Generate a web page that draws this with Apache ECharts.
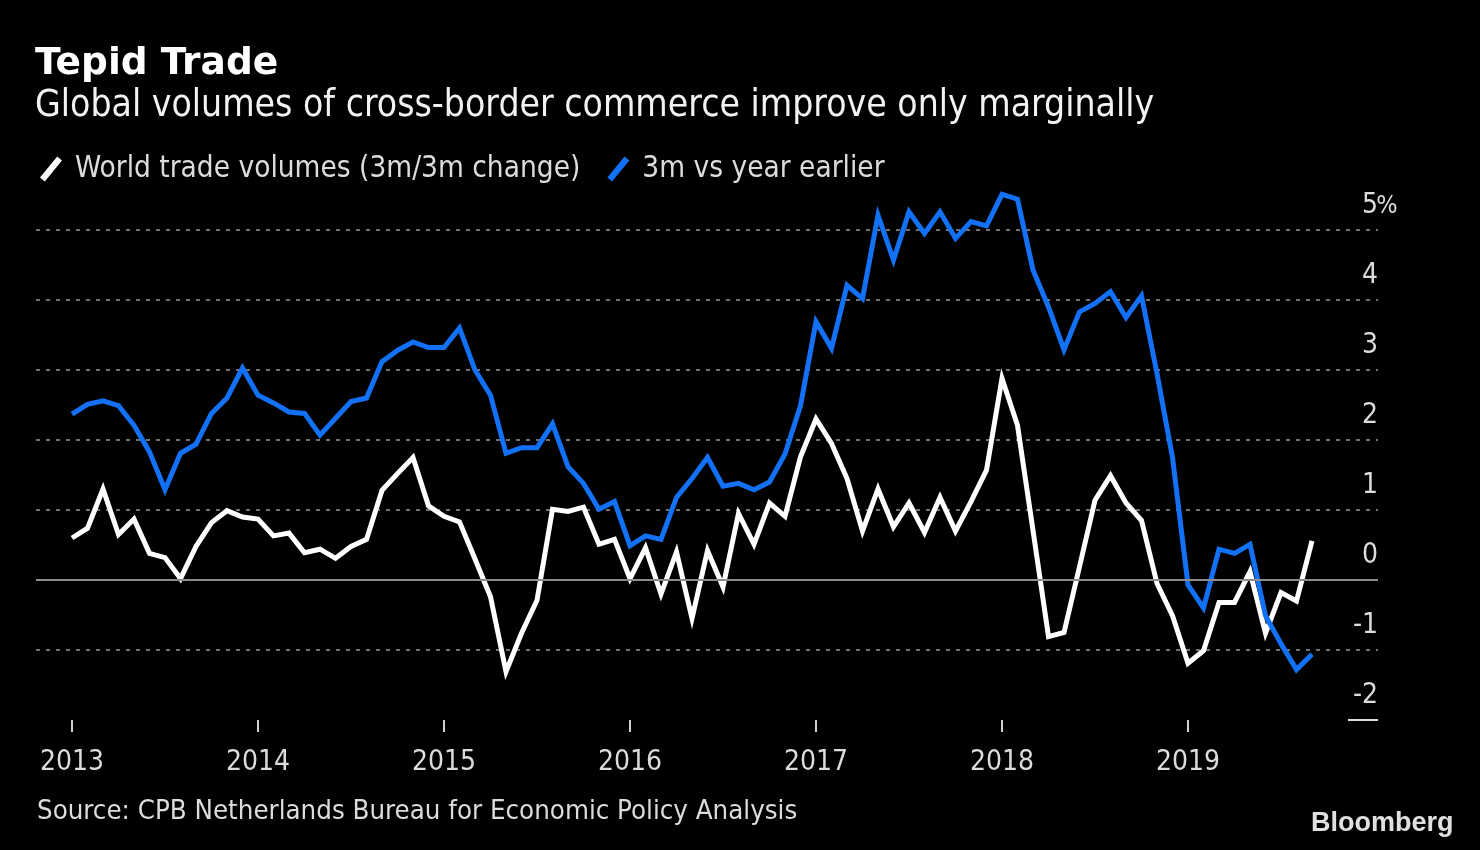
<!DOCTYPE html>
<html>
<head>
<meta charset="utf-8">
<title>Tepid Trade</title>
<script src="https://cdn.jsdelivr.net/npm/echarts@6/dist/echarts.min.js"></script>
<style>
  html, body { margin: 0; padding: 0; background: #000; }
  #chart { width: 1480px; height: 850px; }
</style>
</head>
<body>
<div id="chart"></div>
<script>
  // monthly points, Jan 2013 .. Sep 2019
  var startYear = 2013;
  var yearTicks = [0, 12, 24, 36, 48, 60, 72];

  var worldTrade = [
    0.60, 0.74, 1.30, 0.65, 0.87, 0.38, 0.32, 0.02, 0.48, 0.82, 0.99, 0.90,
    0.87, 0.63, 0.67, 0.39, 0.44, 0.31, 0.48, 0.58, 1.28, 1.52, 1.75, 1.06,
    0.91, 0.83, 0.30, -0.24, -1.31, -0.76, -0.29, 1.01, 0.98, 1.04, 0.51, 0.58,
    0.02, 0.46, -0.20, 0.40, -0.55, 0.42, -0.10, 0.95, 0.51, 1.10, 0.91, 1.76,
    2.30, 1.95, 1.45, 0.70, 1.30, 0.76, 1.10, 0.68, 1.18, 0.70, 1.12, 1.57,
    2.88, 2.21, 0.71, -0.81, -0.75, 0.19, 1.14, 1.49, 1.10, 0.85, -0.05, -0.51,
    -1.19, -1.01, -0.32, -0.32, 0.12, -0.76, -0.18, -0.30, 0.56
  ];

  var yearEarlier = [
    2.37, 2.51, 2.56, 2.49, 2.21, 1.83, 1.29, 1.81, 1.94, 2.38, 2.60, 3.03,
    2.64, 2.53, 2.40, 2.38, 2.07, 2.31, 2.55, 2.60, 3.12, 3.28, 3.40, 3.32,
    3.32, 3.60, 3.00, 2.64, 1.81, 1.89, 1.89, 2.23, 1.62, 1.38, 1.01, 1.12,
    0.49, 0.63, 0.58, 1.18, 1.45, 1.75, 1.34, 1.38, 1.29, 1.40, 1.80, 2.49,
    3.69, 3.31, 4.21, 4.02, 5.21, 4.57, 5.26, 4.95, 5.26, 4.88, 5.12, 5.06,
    5.51, 5.44, 4.43, 3.90, 3.29, 3.83, 3.95, 4.12, 3.75, 4.06, 2.95, 1.75,
    -0.07, -0.40, 0.44, 0.38, 0.51, -0.51, -0.91, -1.28, -1.06
  ];

  var seriesNames = ['World trade volumes (3m/3m change)', '3m vs year earlier'];

  var font = '"DejaVu Sans Condensed", "DejaVu Sans", sans-serif';
  var slash = 'path://M0,22 L18,0 L23,4 L5,26 Z';

  function toPoints(values) {
    return values.map(function (v, i) { return [i, v]; });
  }

  var chart = echarts.init(document.getElementById('chart'));

  var option = {
    backgroundColor: '#000',
    animation: false,
    title: {
      text: 'Tepid Trade',
      subtext: 'Global volumes of cross-border commerce improve only marginally',
      left: 35,
      top: 44,
      itemGap: 2,
      padding: 0,
      textStyle: {
        color: '#fff',
        fontFamily: '"DejaVu Sans", sans-serif',
        fontWeight: 'bold',
        fontSize: 37.5,
        lineHeight: 40
      },
      subtextStyle: {
        color: '#f2f2f2',
        fontFamily: font,
        fontSize: 37,
        lineHeight: 40
      }
    },
    legend: {
      left: 40,
      top: 154,
      padding: 0,
      itemGap: 27,
      itemWidth: 22,
      itemHeight: 25,
      textStyle: { color: '#dcdcdc', fontFamily: font, fontSize: 29.5, padding: [0, 0, 0, 8] },
      data: [
        { name: seriesNames[0], icon: slash, itemStyle: { color: '#fff' } },
        { name: seriesNames[1], icon: slash, itemStyle: { color: '#1271f6' } }
      ]
    },
    grid: {
      left: 36,
      right: 102,
      top: 230,
      bottom: 130
    },
    xAxis: {
      type: 'value',
      min: -36 / 15.5,
      max: (1378 - 72) / 15.5,
      axisLine: { show: false, onZero: false },
      splitLine: { show: false },
      axisTick: {
        show: true,
        customValues: yearTicks,
        length: 12,
        lineStyle: { color: '#cfcfcf', width: 2 }
      },
      axisLabel: {
        customValues: yearTicks,
        margin: 29,
        color: '#dcdcdc',
        fontFamily: font,
        fontSize: 28,
        formatter: function (v) { return String(startYear + Math.round(v / 12)); }
      }
    },
    yAxis: {
      type: 'value',
      position: 'right',
      min: -2,
      max: 5,
      interval: 1,
      axisLine: { show: false },
      axisTick: { show: false },
      splitLine: {
        show: true,
        showMinLine: false,
        lineStyle: { color: '#737373', type: [4, 6], width: 2 }
      },
      axisLabel: {
        inside: true,
        margin: -18,
        align: 'right',
        verticalAlign: 'bottom',
        lineHeight: 28,
        padding: [0, 0, 10, 0],
        color: '#dcdcdc',
        fontFamily: font,
        fontSize: 28,
        formatter: function (v) { return v === 5 ? v + '{u|%}' : v + '{u|}'; },
        rich: {
          u: { width: 18, align: 'left', color: '#dcdcdc', fontFamily: font, fontSize: 25, lineHeight: 28 }
        }
      }
    },
    series: [
      {
        name: seriesNames[0],
        type: 'line',
        data: toPoints(worldTrade),
        showSymbol: false,
        clip: false,
        lineStyle: { color: '#fff', width: 5, join: 'miter' },
        itemStyle: { color: '#fff' },
        markLine: {
          silent: true,
          symbol: 'none',
          label: { show: false },
          lineStyle: { color: '#8c8c8c', type: 'solid', width: 2 },
          data: [{ yAxis: 0 }]
        }
      },
      {
        name: seriesNames[1],
        type: 'line',
        data: toPoints(yearEarlier),
        showSymbol: false,
        clip: false,
        lineStyle: { color: '#1271f6', width: 5, join: 'miter' },
        itemStyle: { color: '#1271f6' }
      }
    ],
    graphic: [
      {
        type: 'line',
        shape: { x1: 1348, y1: 720, x2: 1378, y2: 720 },
        style: { stroke: '#dcdcdc', lineWidth: 2 }
      },
      {
        type: 'text',
        left: 37,
        top: 798,
        style: {
          text: 'Source: CPB Netherlands Bureau for Economic Policy Analysis',
          fill: '#dcdcdc',
          font: '27.4px ' + font
        }
      },
      {
        type: 'text',
        left: 1311,
        top: 810,
        style: {
          text: 'Bloomberg',
          fill: '#e0e0e0',
          font: 'bold 27px "Liberation Sans", Arial, sans-serif'
        }
      }
    ]
  };

  chart.setOption(option);
</script>
</body>
</html>
